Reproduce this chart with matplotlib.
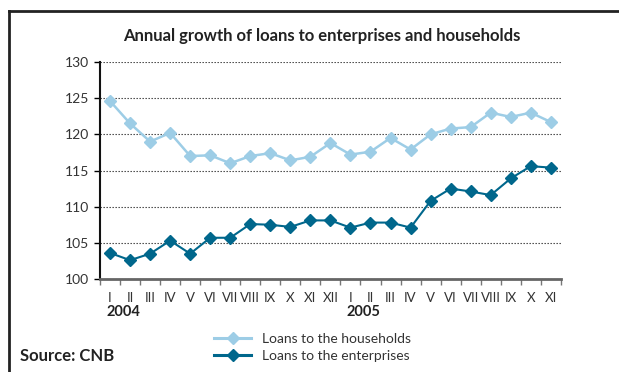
import numpy as np
from matplotlib import pyplot as plt
from matplotlib.lines import Line2D

plt.rcParams['font.family'] = ['Lato', 'DejaVu Sans']

# ---------- data ----------
months = ['I', 'II', 'III', 'IV', 'V', 'VI', 'VII', 'VIII', 'IX', 'X', 'XI', 'XII',
          'I', 'II', 'III', 'IV', 'V', 'VI', 'VII', 'VIII', 'IX', 'X', 'XI']
years = ['2004', '2005']
year_start = [0, 12]
households = [124.6, 121.5, 119.0, 120.2, 117.0, 117.1, 116.0, 117.0, 117.4, 116.4, 116.9, 118.8,
              117.2, 117.6, 119.5, 117.9, 120.0, 120.8, 121.0, 123.0, 122.4, 123.0, 121.7]
enterprises = [103.6, 102.6, 103.5, 105.3, 103.5, 105.7, 105.7, 107.6, 107.5, 107.2, 108.1, 108.1,
               107.1, 107.8, 107.8, 107.1, 110.8, 112.5, 112.1, 111.6, 113.9, 115.6, 115.4]

light = '#9dcde6'
dark = '#00678c'

fig = plt.figure(figsize=(6.19, 3.72), dpi=100)
ax = fig.add_axes([0.1616, 0.25, 0.906 - 0.1616, 0.8333 - 0.25])

x = np.arange(len(months))
ax.plot(x, households, color=light, lw=1.8, marker='D', ms=6.5, mec=light, mfc=light)
ax.plot(x, enterprises, color=dark, lw=1.5, marker='D', ms=6, mec=dark, mfc=dark)

ax.set_xlim(-0.5, len(months) - 0.5)
ax.set_ylim(100, 130)
ax.set_yticks(range(100, 131, 5))
ax.yaxis.grid(True, linestyle=(0, (1.2, 1.5)), color='#333333', lw=0.8)
ax.set_axisbelow(True)

ax.set_xticks(x)
ax.set_xticklabels(months)
ax.set_xticks(np.arange(-0.5, len(months), 1), minor=True)
ax.tick_params(axis='x', which='major', length=0, pad=9, labelsize=9, labelcolor='#333333')
ax.tick_params(axis='x', which='minor', length=4, width=1, color='#777777', direction='out')
ax.tick_params(axis='y', length=4, width=1, labelsize=10, labelcolor='#333333', pad=4)
for lab in ax.get_xticklabels():
    lab.set_family(['Liberation Sans Narrow', 'Lato', 'DejaVu Sans'])
    lab.set_fontsize(9.5)

for s in ['top', 'right']:
    ax.spines[s].set_visible(False)
ax.spines['left'].set_linewidth(1.5)
ax.spines['left'].set_color('#111111')
ax.spines['bottom'].set_linewidth(2)
ax.spines['bottom'].set_color('#666666')

for yr, i0 in zip(years, year_start):
    ax.text(i0 - 0.2, -0.15, yr, transform=ax.get_xaxis_transform(), fontsize=10.5,
            fontweight='bold', color='#222222', ha='left', va='center')

fig.text(0.52, 0.903, 'Annual growth of loans to enterprises and households',
         ha='center', va='center', fontsize=12, fontweight='bold', color='#222222')

handles = [Line2D([], [], color=light, lw=2.2, marker='D', ms=6.5),
           Line2D([], [], color=dark, lw=2.2, marker='D', ms=6)]
fig.legend(handles, ['Loans to the households', 'Loans to the enterprises'],
           loc='center', bbox_to_anchor=(0.505, 0.066), frameon=False, fontsize=10,
           handlelength=2.6, handletextpad=0.8, labelspacing=0.4, labelcolor='#333333')

fig.text(0.032, 0.043, 'Source: CNB', ha='left', va='center', fontsize=12,
         fontweight='bold', color='#222222')

# frame around the chart
fig.add_artist(Line2D([0.0145, 1.0], [0.97, 0.97], color='#222222', lw=2,
                      transform=fig.transFigure))
fig.add_artist(Line2D([0.0145, 0.0145], [0.0, 0.97], color='#222222', lw=2,
                      transform=fig.transFigure))

fig.savefig('out.png', dpi=100)
